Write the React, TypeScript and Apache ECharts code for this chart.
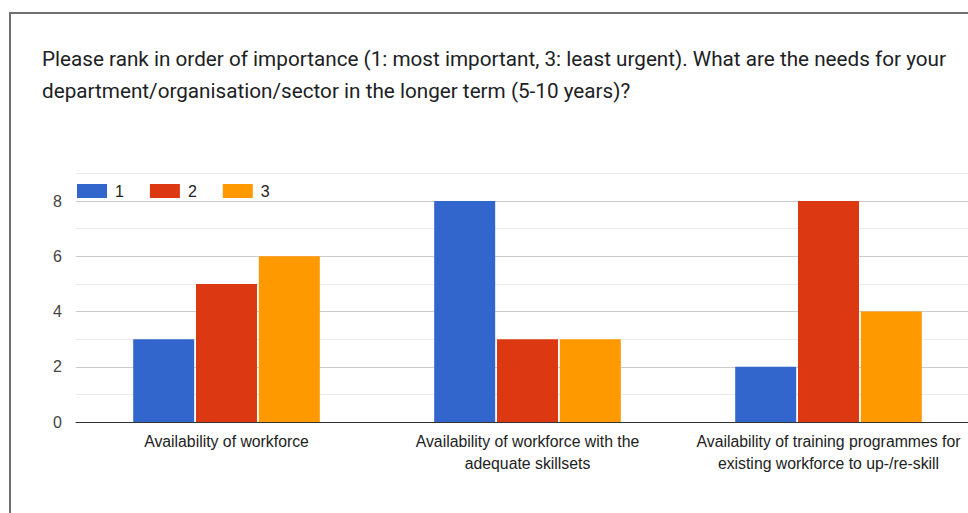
import React, { useEffect, useRef } from "react";
import * as echarts from "echarts";

const categories = [
  "Availability of workforce",
  "Availability of workforce with the\nadequate skillsets",
  "Availability of training programmes for\nexisting workforce to up-/re-skill",
];
const seriesNames = ["1", "2", "3"];
const rank1 = [3, 8, 2];
const rank2 = [5, 3, 8];
const rank3 = [6, 3, 4];
const colors = ["#3366cc", "#dc3912", "#ff9900"];
const titleLines = [
  "Please rank in order of importance (1: most important, 3: least urgent). What are the needs for your",
  "department/organisation/sector in the longer term (5-10 years)?",
];

export default function App() {
  const ref = useRef<HTMLDivElement>(null);
  useEffect(() => {
    if (!ref.current) return;
    const chart = echarts.init(ref.current, undefined, { renderer: "svg" });
    const values = [rank1, rank2, rank3];
    chart.setOption({
      animation: false,
      backgroundColor: "#ffffff",
      textStyle: { fontFamily: "Arial, 'Liberation Sans', sans-serif" },
      graphic: [
        {
          type: "rect",
          shape: { x: 10, y: 13, width: 1000, height: 600 },
          style: { fill: "none", stroke: "#707070", lineWidth: 2 },
          silent: true,
        },
        {
          type: "text",
          left: 42,
          top: 43,
          style: {
            text: titleLines.join("\n"),
            font: "20.7px Roboto",
            lineHeight: 32,
            fill: "#202124",
          },
        },
      ],
      legend: {
        left: 77,
        top: 183,
        padding: 0,
        itemWidth: 30,
        itemHeight: 14,
        itemGap: 26,
        icon: "rect",
        textStyle: { fontSize: 16, color: "#222222", padding: [0, 0, 0, 3] },
        data: seriesNames,
      },
      grid: {
        left: 76,
        width: 903,
        top: 173.4,
        bottom: 91,
        containLabel: false,
        outerBoundsMode: "none",
      },
      xAxis: {
        type: "category",
        data: categories,
        axisTick: { show: false },
        axisLine: { lineStyle: { color: "#333333", width: 1 } },
        axisLabel: {
          interval: 0,
          fontSize: 15.8,
          color: "#222222",
          lineHeight: 22,
          margin: 8,
        },
      },
      yAxis: {
        type: "value",
        min: 0,
        max: 9,
        interval: 1,
        axisLine: { show: false },
        axisTick: { show: false },
        axisLabel: {
          fontSize: 16,
          color: "#444444",
          margin: 14,
          formatter: (v: number) => (v % 2 === 0 ? String(v) : ""),
        },
        splitLine: { lineStyle: { color: ["#cccccc", "#ebebeb"], width: 1 } },
      },
      series: seriesNames.map((name, i) => ({
        name,
        type: "bar",
        data: values[i],
        barCategoryGap: "38%",
        barGap: "3%",
        itemStyle: { color: colors[i] },
      })),
    });
    return () => chart.dispose();
  }, []);
  return (
    <div
      ref={ref}
      style={{ position: "fixed", left: 0, top: 0, width: 968, height: 513 }}
    />
  );
}
